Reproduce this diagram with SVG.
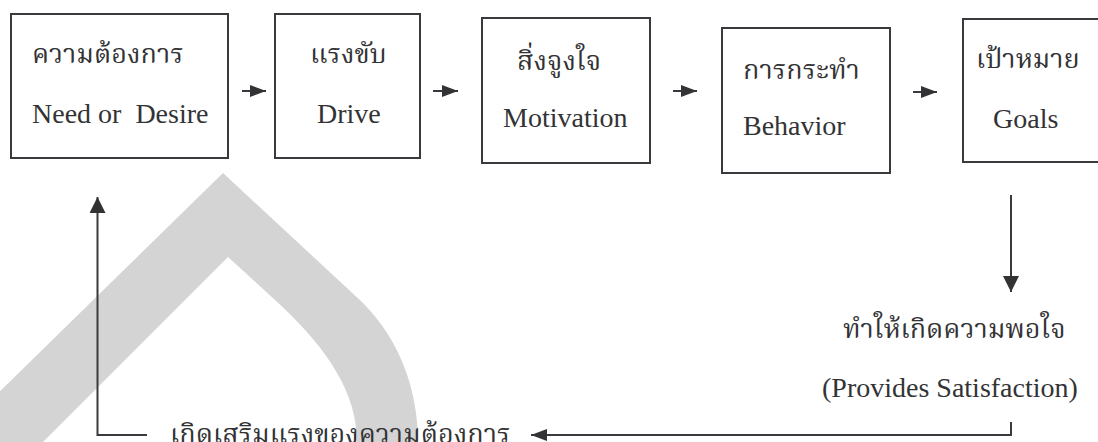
<svg xmlns="http://www.w3.org/2000/svg" width="1098" height="442" viewBox="0 0 1098 442">
<style>
.box{fill:none;stroke:#3a3a3e;stroke-width:2}
.en{font-family:"Liberation Serif","Times New Roman",serif;font-size:28px;fill:#333336;white-space:pre}
.th{font-family:"Liberation Serif","Noto Serif Thai","Noto Sans Thai","DejaVu Sans",serif;font-size:27px;fill:#333336}
.ln{fill:none;stroke:#3a3a3e;stroke-width:2}
</style>
<defs>
<marker id="as" markerUnits="userSpaceOnUse" markerWidth="16" markerHeight="12" refX="16" refY="6" orient="auto"><path d="M0,0 L16,6 L0,12 Z" fill="#333336"/></marker>
<marker id="al" markerUnits="userSpaceOnUse" markerWidth="16" markerHeight="16" refX="16" refY="8" orient="auto"><path d="M0,0 L16,8 L0,16 Z" fill="#333336"/></marker>
</defs>
<path id="watermark" d="M-52,442 L223,173 L362,302 C400,340 418,390 418,442 L357,442 C357,395 330,350 275,300 L228,257 L43,442 Z" fill="#d4d4d4"/>
<g id="need">
<rect class="box" x="11" y="14" width="217" height="144"/>
<text class="th" x="32" y="63">ความต้องการ</text>
<text class="en" x="32" y="123">Need or  Desire</text>
</g>
<g id="drive">
<rect class="box" x="275" y="14" width="145" height="144"/>
<text class="th" x="310" y="63">แรงขับ</text>
<text class="en" x="317" y="123">Drive</text>
</g>
<g id="motivation">
<rect class="box" x="482" y="18" width="168" height="145"/>
<text class="th" x="517" y="70">สิ่งจูงใจ</text>
<text class="en" x="503" y="127">Motivation</text>
</g>
<g id="behavior">
<rect class="box" x="722" y="28" width="168" height="145"/>
<text class="th" x="743" y="79">การกระทำ</text>
<text class="en" x="743" y="135">Behavior</text>
</g>
<g id="goals">
<rect class="box" x="963" y="19" width="150" height="143"/>
<text class="th" x="976" y="68">เป้าหมาย</text>
<text class="en" x="993" y="128">Goals</text>
</g>
<g id="satisfaction">
<text class="th" x="843" y="338">ทำให้เกิดความพอใจ</text>
<text class="en" x="822" y="397">(Provides Satisfaction)</text>
</g>
<g id="reinforce">
<text class="th" x="170" y="443">เกิดเสริมแรงของความต้องการ</text>
</g>
<g id="connectors">
<line class="ln" x1="242" y1="91" x2="266" y2="91" marker-end="url(#as)"/>
<line class="ln" x1="433" y1="91" x2="458" y2="91" marker-end="url(#as)"/>
<line class="ln" x1="673" y1="91" x2="697" y2="91" marker-end="url(#as)"/>
<line class="ln" x1="913" y1="92" x2="937" y2="92" marker-end="url(#as)"/>
<line class="ln" x1="1011" y1="195" x2="1011" y2="292" marker-end="url(#al)"/>
<polyline class="ln" points="1011,422 1011,435 531,435" marker-end="url(#as)"/>
<polyline class="ln" points="147,435 97.5,435 97.5,197" marker-end="url(#al)"/>
</g>
</svg>
